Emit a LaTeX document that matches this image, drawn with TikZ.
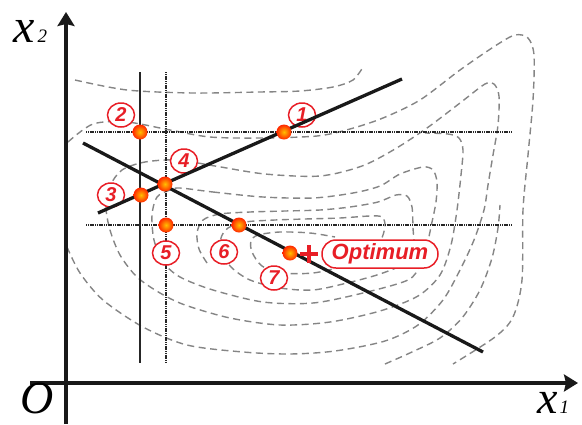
\documentclass[tikz,border=0pt]{standalone}
\usepackage{fontspec}
\setmainfont{Liberation Serif}
\newfontfamily\tagfont{Liberation Sans}
\usetikzlibrary{shapes.geometric,arrows.meta}

\begin{document}
\begin{tikzpicture}[x=1pt, y=-1pt,
        contour/.style={black!48, line width=1.4pt, dash pattern=on 7pt off 4.5pt},
        guide/.style={black!85, line width=1.5pt, dash pattern=on 1.1pt off 0.7pt},
        thinline/.style={black!85, line width=1.3pt},
        searchline/.style={black!90, line width=3.3pt},
        axis/.style={black!90, line width=4pt, -{Stealth[length=14pt,width=17pt,inset=2pt]}},
        ball/.style={circle, inner sep=0pt, minimum size=15pt, inner color=yellow!50!orange, outer color=red!70!orange},
        numtag/.style={ellipse, draw=optred, fill=white, line width=1.5pt, inner sep=0pt,
            minimum width=27pt, minimum height=24pt, text=optred,
            font=\tagfont\bfseries\itshape\fontsize{20}{20}\selectfont},
        optbox/.style={rectangle, rounded corners=13.9pt, draw=optred, fill=white, line width=1.5pt,
            minimum width=116pt, minimum height=28pt, inner sep=0pt, text=optred,
            font=\tagfont\bfseries\itshape\fontsize{22}{22}\selectfont},
        axislabel/.style={anchor=base west, inner sep=0pt, font=\itshape}]
        \definecolor{optred}{RGB}{232,30,38}
        \useasboundingbox (0,0) rectangle (582,424);
        % contour lines
        \draw[contour] plot[smooth] coordinates {(75,80) (127,90) (193,93) (260,92) (300,91) (333,87) (353,80) (363,67)};
        \draw[contour] plot[smooth] coordinates {(68,142) (93,124) (127,122) (170,130) (210,137) (260,138) (317,136) (350,129) (383,118) (420,100) (460,70) (495,46) (515,35) (528,38) (534,55) (533,100) (528,155) (523,210) (522,280) (513,317) (495,337) (453,364)};
        \draw[contour] plot[smooth] coordinates {(67,247) (80,273) (103,300) (143,327) (187,345) (243,352) (290,354) (335,351) (385,341) (418,325) (443,300) (460,270) (474,240) (484,210) (488,185) (493,155) (498,125) (499,96) (494,84) (485,84) (460,103) (427,128) (395,149) (362,166) (320,176) (265,174) (215,166) (177,160) (145,162) (122,170) (110,186) (106,207) (110,230) (120,255) (137,277) (160,293) (185,305) (230,318) (280,325) (330,322) (380,311) (418,296) (440,275) (451,245) (457,210) (461,175) (463,150) (459,138) (448,134) (425,133)};
        \draw[contour] plot[smooth] coordinates {(385,364) (412,352) (440,338) (462,318) (480,290) (492,258) (498,228) (500,205)};
        \draw[contour] plot[smooth cycle] coordinates {(180,188) (213,192) (263,197) (313,198) (353,193) (380,186) (400,174) (423,167) (433,170) (437,182) (436,202) (432,222) (427,245) (420,265) (408,280) (363,293) (313,303) (263,302) (213,290) (180,277) (163,262) (154,240) (152,215) (157,197) (170,190)};
        \draw[contour] plot[smooth] coordinates {(207,263) (199,249) (197,233) (203,220) (220,214) (250,212) (285,211) (320,210) (350,207) (378,202) (396,195) (407,196) (412,207) (413,228) (414,248) (408,262) (380,274) (347,283) (313,290) (280,288) (250,280) (231,267) (222,252) (221,238) (228,228) (245,222) (275,220) (305,219) (340,218) (370,216) (382,217) (385,226) (380,242) (365,257) (340,267) (313,273) (283,273) (262,266) (252,252) (251,241) (258,235) (280,232) (310,233) (335,237)};
        % guide lines
        \coordinate (vonetop) at (140,72);
        \coordinate (vonebot) at (140,363);
        \coordinate (vtwotop) at (166,72);
        \coordinate (vtwobot) at (166,363);
        \coordinate (honel) at (86,132);
        \coordinate (honer) at (511,132);
        \coordinate (htwol) at (86,225);
        \coordinate (htwor) at (511,225);
        \draw[thinline] (vonetop) -- (vonebot);
        \draw[guide] (vtwotop) -- (vtwobot);
        \draw[guide] (honel) -- (honer);
        \draw[guide] (htwol) -- (htwor);
        % step numbers
        \node[numtag] (tagone) at (302,115) {1};
        \node[numtag] (tagtwo) at (121,115) {2};
        \node[numtag] (tagthree) at (111,195) {3};
        \node[numtag] (tagfour) at (184,161) {4};
        \node[numtag] (tagfive) at (166,253) {5};
        \node[numtag] (tagsix) at (224,252) {6};
        \node[numtag] (tagseven) at (274,278) {7};
        % search lines
        \coordinate (aone) at (98,213);
        \coordinate (atwo) at (402,79);
        \coordinate (bone) at (83,143);
        \coordinate (btwo) at (483,352);
        \draw[searchline] (aone) -- (atwo);
        \draw[searchline] (bone) -- (btwo);
        % points
        \node[ball] (pone) at (284,132) {};
        \node[ball] (ptwo) at (140,132) {};
        \node[ball] (pthree) at (141,195) {};
        \node[ball] (pfour) at (165,184) {};
        \node[ball] (pfive) at (166,225) {};
        \node[ball] (psix) at (239,225) {};
        \node[ball] (pseven) at (290,253) {};
        % optimum
        \coordinate (plus) at (309,254);
        \draw[optred, line width=3.6pt] ([xshift=-9pt]plus) -- ([xshift=9pt]plus);
        \draw[optred, line width=3.6pt] ([yshift=-9pt]plus) -- ([yshift=9pt]plus);
        \node[optbox] (optimum) at (380,254) {Optimum};
        % axes
        \coordinate (ybot) at (66,424);
        \coordinate (ytop) at (66,12);
        \coordinate (xleft) at (30,383);
        \coordinate (xright) at (578,383);
        \draw[axis] (ybot) -- (ytop);
        \draw[axis] (xleft) -- (xright);
        \node[axislabel] (xtwolabel) at (13,42) {{\fontsize{48}{48}\selectfont x}\kern3pt{\fontsize{19}{19}\selectfont 2}};
        \node[axislabel] (xonelabel) at (537,413) {{\fontsize{46}{46}\selectfont x}\kern2pt{\fontsize{19}{19}\selectfont 1}};
        \node[axislabel] (originlabel) at (20,413) {\fontsize{46}{46}\selectfont O};
    \end{tikzpicture}
\end{document}
